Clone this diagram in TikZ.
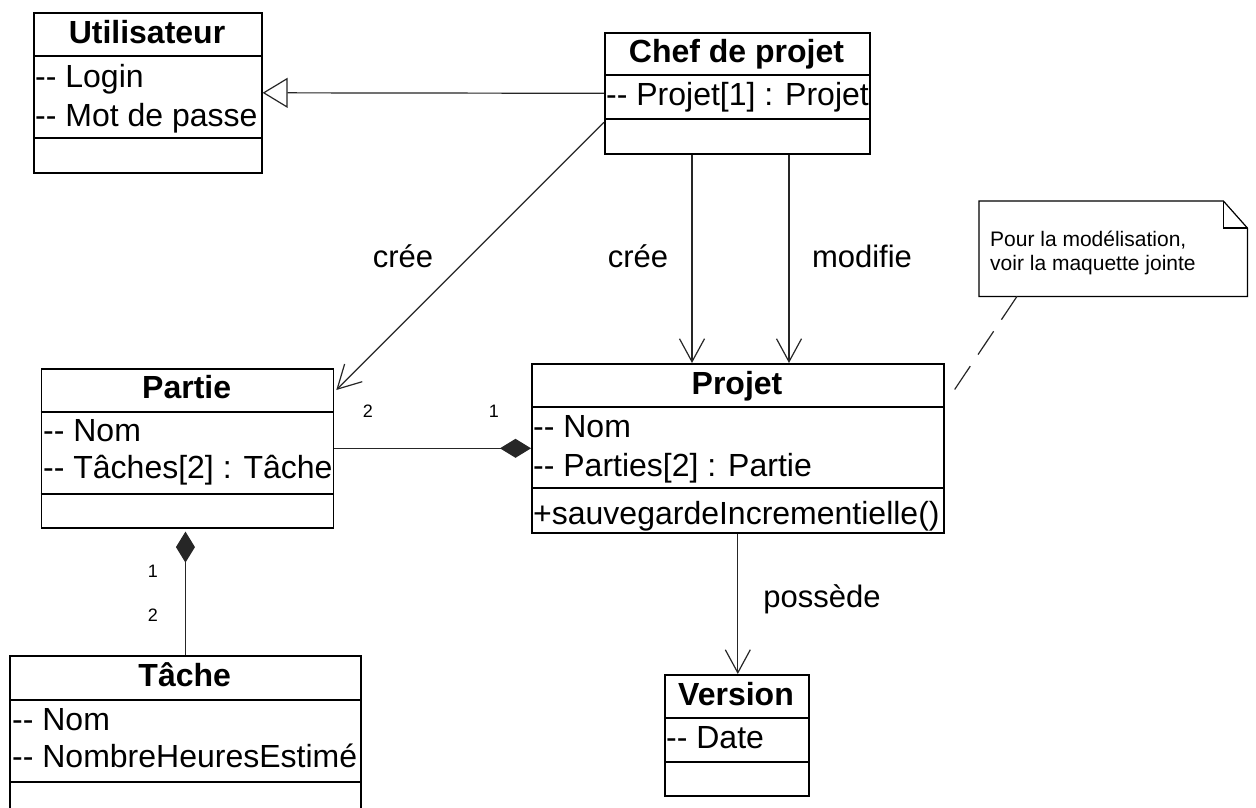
\documentclass[tikz,border=0pt]{standalone}
\usepackage{fontspec}
\setmainfont{Liberation Sans}[Ligatures=TeXOff]
\usetikzlibrary{arrows.meta,calc}

\begin{document}
\begin{tikzpicture}[x=1pt,y=-1pt,
  classbox/.style={draw=black, line width=1.6pt, fill=white, inner sep=0pt, anchor=north west},
  divider/.style={draw=black, line width=1.6pt},
  title/.style={anchor=base, inner sep=0pt, font=\fontsize{32}{38}\selectfont\bfseries},
  attr/.style={anchor=base west, inner sep=0pt, font=\fontsize{32}{38}\selectfont},
  lbl/.style={anchor=base, inner sep=0pt, font=\fontsize{31}{36}\selectfont},
  mult/.style={anchor=base, inner sep=0pt, font=\fontsize{18}{22}\selectfont},
  notetext/.style={anchor=base west, inner sep=0pt, font=\fontsize{21}{25}\selectfont},
  conn/.style={draw=black!85, line width=1.2pt},
  openhead/.style={-{Straight Barb[length=23pt,width=25pt]}},
  genhead/.style={-{Triangle[open,length=25pt,width=30pt,fill=white]}},
  comphead/.style={{Diamond[length=31pt,width=19pt]}-},
]
\useasboundingbox (0,0) rectangle (1256,808);
\clip (0,0) rectangle (1256,808);
\fill[white] (0,0) rectangle (1256,808);

% Utilisateur
\node[classbox, minimum width=228pt, minimum height=160pt] (util) at (33,12) {};
\draw[divider] (33,56) -- (261,56);
\draw[divider] (33,138) -- (261,138);
\node[title] (utilT) at (147,44) {Utilisateur};
\node[attr] (utilA1) at (35,88) {-- Login};
\node[attr] (utilA2) at (35,126) {-- Mot de passe};

% Chef de projet
\node[classbox, minimum width=265pt, minimum height=121pt] (chef) at (604,32) {};
\draw[divider] (604,75) -- (869,75);
\draw[divider] (604,119) -- (869,119);
\node[title] (chefT) at (736.5,63) {Chef de projet};
\node[attr] (chefA1) at (606,106) {-- Projet[1] : Projet};

% Partie
\node[classbox, minimum width=292pt, minimum height=159pt] (partie) at (40.7,368) {};
\draw[divider] (40.7,412) -- (332.7,412);
\draw[divider] (40.7,494) -- (332.7,494);
\node[title] (partieT) at (186.7,398.5) {Partie};
\node[attr] (partieA1) at (43,441.7) {-- Nom};
\node[attr] (partieA2) at (43,478.5) {-- Tâches[2] : Tâche};

% Projet
\node[classbox, minimum width=412pt, minimum height=169pt] (projet) at (531,363) {};
\draw[divider] (531,407) -- (943,407);
\draw[divider] (531,488) -- (943,488);
\node[title] (projetT) at (737,394) {Projet};
\node[attr] (projetA1) at (533,437) {-- Nom};
\node[attr] (projetA2) at (533,476.7) {-- Parties[2] : Partie};
\node[attr] (projetM1) at (533,524) {+sauvegardeIncrementielle()};

% Tache
\node[classbox, minimum width=350.7pt, minimum height=170pt] (tache) at (9.3,655) {};
\draw[divider] (9.3,700) -- (360,700);
\draw[divider] (9.3,782) -- (360,782);
\node[title] (tacheT) at (184.7,686) {Tâche};
\node[attr] (tacheA1) at (12,730) {-- Nom};
\node[attr] (tacheA2) at (12,767.3) {-- NombreHeuresEstimé};

% Version
\node[classbox, minimum width=144pt, minimum height=121pt] (version) at (664,674) {};
\draw[divider] (664,718) -- (808,718);
\draw[divider] (664,762) -- (808,762);
\node[title] (versionT) at (736,705.7) {Version};
\node[attr] (versionA1) at (666,748) {-- Date};

% Note with folded corner
\node[inner sep=0pt, minimum width=268pt, minimum height=95pt, anchor=north west] (note) at (979,201) {};
\draw[line width=1.2pt, fill=white] (note.north west) -- ([xshift=-24pt]note.north east)
  -- ([yshift=-27pt]note.north east) -- (note.south east) -- (note.south west) -- cycle;
\draw[line width=1.2pt] ([xshift=-24pt]note.north east) -- ([xshift=-24pt,yshift=-27pt]note.north east)
  -- ([yshift=-27pt]note.north east);
\node[notetext] (noteL1) at (990,246) {Pour la modélisation,};
\node[notetext] (noteL2) at (990,270) {voir la maquette jointe};

% Connectors
\draw[conn, genhead] (chef.west) -- (util.east);
\draw[conn, openhead] ([yshift=-29pt]chef.west) -- ([yshift=-22pt,xshift=2pt]partie.north east);
\draw[conn, openhead] ([xshift=88pt]chef.south west) -- ([xshift=88pt]chef.south west |- projet.north);
\draw[conn, openhead] ([xshift=185pt]chef.south west) -- ([xshift=185pt]chef.south west |- projet.north);
\draw[conn, comphead] (projet.west) -- (partie.east);
\draw[conn, comphead] ([yshift=-3pt]tache.north |- partie.south) -- (tache.north);
\draw[conn, openhead] (projet.south) -- (projet.south |- version.north);
\draw[conn, dash pattern=on 28pt off 14pt] ([xshift=38pt]note.south west) -- ([xshift=5pt,yshift=-34pt]projet.north east);

% Association labels and multiplicities
\node[lbl] (lblCreeA) at (403,267) {crée};
\node[lbl] (lblCreeB) at (638,267) {crée};
\node[lbl] (lblModif) at (862,267) {modifie};
\node[lbl] (lblPossede) at (822,607) {possède};
\node[mult] (mPartie) at (368,417) {2};
\node[mult] (mProjet) at (494,417) {1};
\node[mult] (mPartieB) at (153,577) {1};
\node[mult] (mTache) at (153,621) {2};
\end{tikzpicture}
\end{document}
